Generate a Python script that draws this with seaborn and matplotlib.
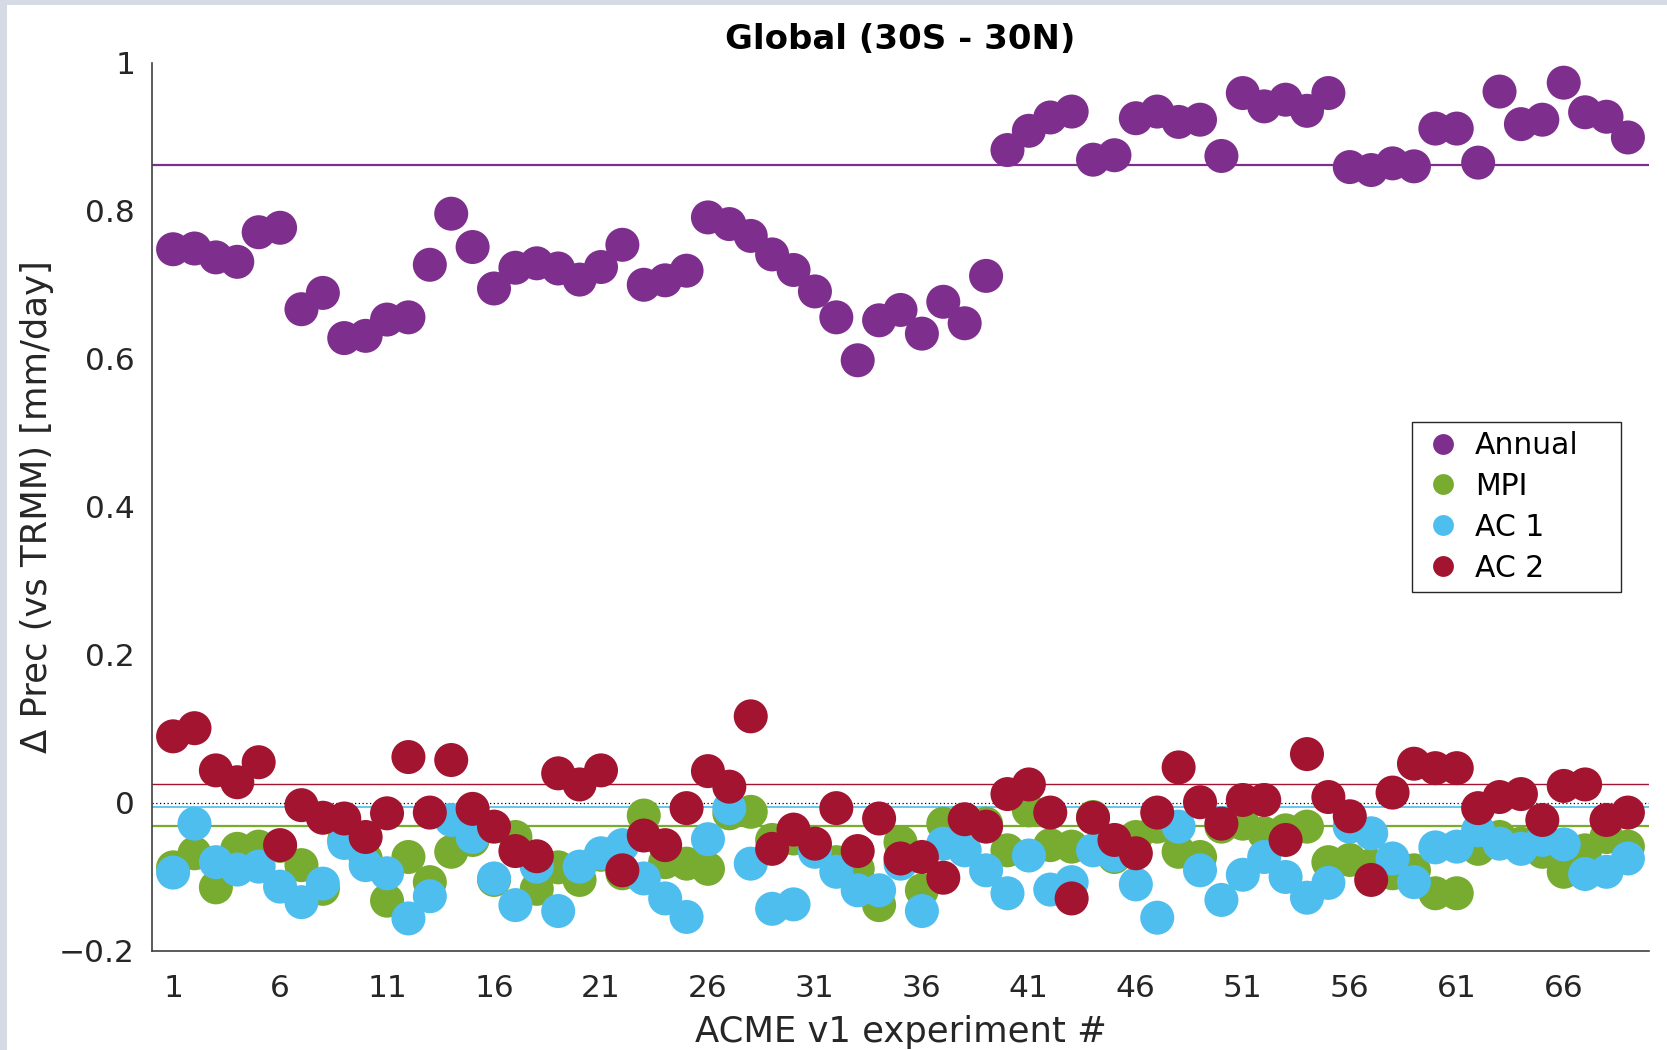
import numpy as np
import pandas as pd
import matplotlib
matplotlib.use("Agg")
import matplotlib.pyplot as plt
from matplotlib.lines import Line2D
from matplotlib.patches import Rectangle
import seaborn as sns

# ACME v1 experiments, precipitation bias vs TRMM, tropics 30S-30N
experiments = list(range(1, 70))

annual = [0.748, 0.749, 0.737, 0.731, 0.771, 0.777, 0.667, 0.689, 0.628, 0.631,
          0.653, 0.656, 0.727, 0.796, 0.751, 0.695, 0.723, 0.729, 0.722, 0.707,
          0.724, 0.754, 0.700, 0.706, 0.719, 0.791, 0.782, 0.766, 0.741, 0.720,
          0.691, 0.656, 0.598, 0.652, 0.666, 0.634, 0.677, 0.648, 0.712, 0.882,
          0.908, 0.926, 0.934, 0.869, 0.875, 0.925, 0.934, 0.920, 0.923, 0.874,
          0.959, 0.941, 0.950, 0.935, 0.959, 0.859, 0.855, 0.864, 0.860, 0.911,
          0.911, 0.865, 0.961, 0.917, 0.923, 0.973, 0.933, 0.927, 0.899]

mpi = [-0.087, -0.068, -0.114, -0.062, -0.059, -0.058, -0.084, -0.116, -0.050, -0.075,
       -0.132, -0.073, -0.107, -0.066, -0.050, -0.104, -0.046, -0.116, -0.087, -0.104,
       -0.070, -0.095, -0.017, -0.080, -0.082, -0.089, -0.014, -0.012, -0.050, -0.048,
       -0.060, -0.080, -0.089, -0.138, -0.053, -0.118, -0.028, -0.023, -0.028, -0.064,
       -0.010, -0.057, -0.059, -0.019, -0.073, -0.046, -0.032, -0.066, -0.073, -0.032,
       -0.028, -0.041, -0.037, -0.032, -0.080, -0.077, -0.084, -0.095, -0.091, -0.122,
       -0.122, -0.062, -0.046, -0.055, -0.066, -0.093, -0.064, -0.046, -0.059]

ac1 = [-0.094, -0.028, -0.080, -0.090, -0.086, -0.113, -0.134, -0.109, -0.054, -0.084,
       -0.095, -0.156, -0.126, -0.023, -0.046, -0.102, -0.138, -0.086, -0.146, -0.086,
       -0.068, -0.057, -0.102, -0.129, -0.154, -0.049, -0.007, -0.082, -0.143, -0.137,
       -0.066, -0.093, -0.118, -0.118, -0.082, -0.146, -0.055, -0.064, -0.091, -0.122,
       -0.071, -0.117, -0.107, -0.064, -0.071, -0.110, -0.155, -0.032, -0.091, -0.131,
       -0.097, -0.073, -0.100, -0.128, -0.108, -0.032, -0.041, -0.075, -0.107, -0.060,
       -0.059, -0.037, -0.055, -0.062, -0.050, -0.056, -0.096, -0.093, -0.075]

ac2 = [0.090, 0.101, 0.044, 0.028, 0.055, -0.057, -0.003, -0.020, -0.021, -0.046,
       -0.014, 0.062, -0.013, 0.058, -0.008, -0.032, -0.065, -0.072, 0.040, 0.025,
       0.044, -0.091, -0.044, -0.057, -0.007, 0.043, 0.022, 0.117, -0.062, -0.036,
       -0.055, -0.007, -0.065, -0.021, -0.075, -0.073, -0.101, -0.022, -0.032, 0.012,
       0.025, -0.013, -0.129, -0.020, -0.050, -0.068, -0.013, 0.048, 0.001, -0.028,
       0.004, 0.004, -0.050, 0.066, 0.008, -0.018, -0.104, 0.014, 0.053, 0.047,
       0.047, -0.007, 0.008, 0.012, -0.023, 0.023, 0.025, -0.023, -0.013]

series_names = ["Annual", "MPI", "AC 1", "AC 2"]
series_colors = ["#7E2F8E", "#77AC30", "#4DBEEE", "#A2142F"]
# reference (control) level for each series
reference_levels = [0.862, -0.031, -0.005, 0.026]

xticks = list(range(1, 70, 5))
yticks = [-0.2, 0.0, 0.2, 0.4, 0.6, 0.8, 1.0]
ytick_labels = ["\u22120.2", "0", "0.2", "0.4", "0.6", "0.8", "1"]

sns.set_theme(style="white")
plt.rcParams["font.family"] = ["DejaVu Sans"]

df = pd.DataFrame({
    "experiment": experiments * 4,
    "value": annual + mpi + ac1 + ac2,
    "series": np.repeat(series_names, len(experiments)),
})

W, H = 1667, 1050
fig = plt.figure(figsize=(W / 100, H / 100), dpi=100, facecolor="#d6dae4")
fig.patches.append(Rectangle((7 / W, 0), 1, 1 - 5 / H, transform=fig.transFigure,
                             facecolor="white", edgecolor="none", zorder=-1))
ax = fig.add_axes([151.7 / W, 1 - 951 / H, (1649.3 - 151.7) / W, (951 - 62.7) / H])
ax.set_facecolor("white")

for lvl, c, lw in zip(reference_levels, series_colors, [1.6, 1.6, 1.2, 1.0]):
    ax.axhline(lvl, color=c, lw=lw, zorder=1)
ax.axhline(0, color="black", lw=0.9, ls=(0, (1, 2)), zorder=1)

sns.scatterplot(data=df, x="experiment", y="value", hue="series",
                palette=dict(zip(series_names, series_colors)),
                s=600, linewidth=0, alpha=1, legend=False, ax=ax, zorder=2)

ax.set_xlim(0, 70)
ax.set_ylim(-0.2, 1.0)
ax.set_xticks(xticks)
ax.set_yticks(yticks)
ax.set_yticklabels(ytick_labels)
ax.tick_params(direction="in", length=10.8, width=1.0, color="#404040",
               labelsize=22.5, labelcolor="#262626")
ax.tick_params(axis="x", pad=16.5)
ax.tick_params(axis="y", pad=12)
for side in ["top", "right"]:
    ax.spines[side].set_visible(False)
for side in ["left", "bottom"]:
    ax.spines[side].set_color("#404040")
    ax.spines[side].set_linewidth(1.2)

ax.set_xlabel("ACME v1 experiment #", fontsize=25.5, color="#262626", labelpad=9)
ax.set_ylabel("\u0394 Prec (vs TRMM) [mm/day]", fontsize=25.5, color="#262626", labelpad=4)
ax.set_title("Global (30S - 30N)", fontsize=24.5, fontweight="bold", color="black", pad=9.6)

handles = [Line2D([], [], ls="none", marker="o", markersize=15, markerfacecolor=c,
                  markeredgewidth=0, color=c) for c in series_colors]
leg = ax.legend(handles, series_names, loc="upper left",
                bbox_to_anchor=(1412 / W, 1 - 422 / H, 209 / W, 0),
                bbox_transform=fig.transFigure, mode="expand", borderaxespad=0,
                fontsize=21.5, frameon=True, fancybox=False, edgecolor="#262626",
                framealpha=1, borderpad=0.3, handlelength=1.5, handletextpad=0.3,
                labelspacing=0.40)
leg.get_frame().set_linewidth(1.0)
for t in leg.get_texts():
    t.set_color("black")

fig.savefig("out.png", dpi=100, facecolor=fig.get_facecolor())
